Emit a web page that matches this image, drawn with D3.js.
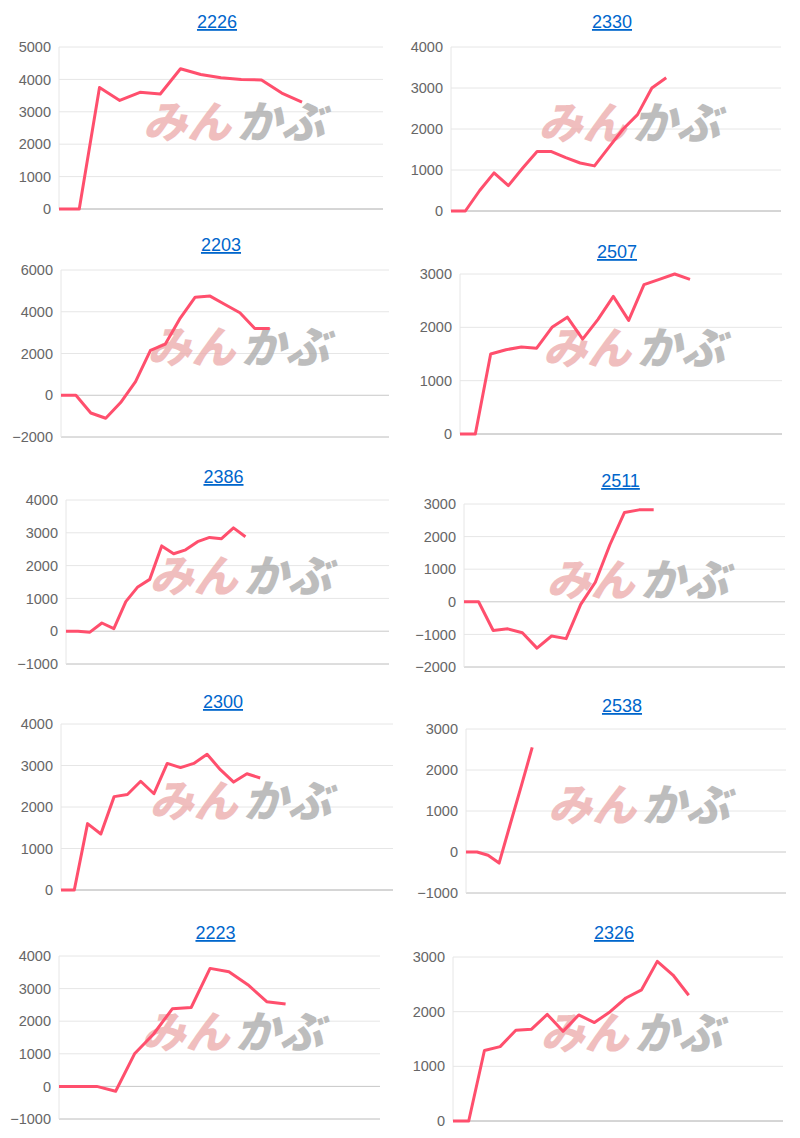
<!DOCTYPE html>
<html><head><meta charset="utf-8">
<script src="https://cdn.jsdelivr.net/npm/d3@7"></script>
<style>body{margin:0;background:#fff}svg{display:block}</style>
</head><body>
<script>
// Data
const titles = ["2226","2330","2203","2507","2386","2511","2300","2538","2223","2326"];
const slots = [16,23,22,21,27,22,25,29,17,21];
const yDomains = [[0,5000],[0,4000],[-2000,6000],[0,3000],[-1000,4000],[-2000,3000],[0,4000],[-1000,3000],[-1000,4000],[0,3000]];
const tickSteps = [1000,1000,2000,1000,1000,1000,1000,1000,1000,1000];
const s2226 = [0,0,3750,3350,3600,3550,4330,4150,4050,4000,3980,3580,3300];
const s2330 = [0,0,500,930,620,1050,1450,1450,1300,1170,1100,1550,2000,2350,3000,3250];
const s2203 = [0,0,-850,-1100,-350,650,2150,2450,3700,4700,4750,4350,3950,3200,3200];
const s2507 = [0,0,1500,1580,1630,1610,2000,2190,1780,2150,2580,2130,2800,2900,3000,2900];
const s2386 = [0,0,-30,250,80,900,1350,1580,2600,2360,2480,2730,2860,2820,3150,2880];
const s2511 = [0,0,-880,-830,-950,-1420,-1050,-1130,-80,600,1750,2740,2820,2820];
const s2300 = [0,0,1600,1350,2250,2300,2620,2320,3050,2950,3050,3270,2900,2600,2800,2700];
const s2538 = [0,0,-80,-270,670,1600,2550];
const s2223 = [0,0,0,-150,1000,1600,2380,2420,3620,3520,3120,2600,2530];
const s2326 = [0,0,1290,1360,1660,1680,1950,1640,1940,1800,2000,2250,2400,2920,2670,2300];
const series = [s2226,s2330,s2203,s2507,s2386,s2511,s2300,s2538,s2223,s2326];

// layout: [left,right,top,bottom,titleY]
const boxes = [
 [59,383,47,209,22],[451,781,47,211,22],
 [61,389,270,437,245],[460,782,274,434,252],
 [66,389,500,664,477],[464,785,504,667,481],
 [61,393,724,890,702],[466,786,729,893,706],
 [59,380,956,1119,933],[453,783,957,1121,933]
];

const svg = d3.select("body").append("svg").attr("width",800).attr("height",1138);
const font = "Helvetica, Arial, 'Liberation Sans', sans-serif";

series.forEach((vals,i)=>{
  const [L,R,T,B,TY] = boxes[i];
  const x = d3.scaleLinear().domain([0,slots[i]]).range([L,R]);
  const y = d3.scaleLinear().domain(yDomains[i]).range([B,T]);
  const g = svg.append("g");
  const ticks = d3.range(yDomains[i][0], yDomains[i][1]+1, tickSteps[i]);
  g.selectAll("line.grid").data(ticks).join("line")
    .attr("x1",L).attr("x2",R).attr("y1",d=>y(d)).attr("y2",d=>y(d))
    .attr("stroke",d=>d===0?"#c8c8c8":"#e6e6e6").attr("stroke-width",1);
  g.append("line").attr("x1",L).attr("x2",R).attr("y1",B).attr("y2",B).attr("stroke","#c8c8c8");
  g.append("line").attr("x1",L).attr("x2",L).attr("y1",T).attr("y2",B).attr("stroke","#e6e6e6");
  const ax = g.append("g").attr("transform",`translate(${L-4},0)`)
    .call(d3.axisLeft(y).tickValues(ticks).tickSize(0).tickPadding(4).tickFormat(d3.format("d")));
  ax.select(".domain").remove();
  ax.selectAll("text").attr("fill","#666").style("font-family",font).style("font-size","14.5px");
  const cx = L + (R-L)*0.555, cy = T + (B-T)*0.47;
  const wm = g.append("g").attr("transform",`translate(${cx},${cy}) skewX(-14)`);
  wm.append("text").attr("x",-4).attr("y",15).attr("text-anchor","end").text("みん")
    .attr("fill","#eba9a9").attr("opacity",0.75).style("font-family","'Noto Sans CJK JP'").style("font-weight","900").style("font-size","44px");
  wm.append("text").attr("x",2).attr("y",15).attr("text-anchor","start").text("かぶ")
    .attr("fill","#a8a8a8").attr("opacity",0.75).style("font-family","'Noto Sans CJK JP'").style("font-weight","900").style("font-size","44px");
  g.append("path").datum(vals)
    .attr("d", d3.line().x((d,k)=>x(k)).y(d=>y(d)))
    .attr("fill","none").attr("stroke","#ff4f6d").attr("stroke-width",3).attr("stroke-linejoin","round");
  g.append("text").attr("x",(L+R)/2 - 4).attr("y",TY+6).attr("text-anchor","middle")
    .text(titles[i]).attr("fill","#0066cc").style("text-decoration","underline")
    .style("font-family",font).style("font-size","18px");
});
</script>
</body></html>
